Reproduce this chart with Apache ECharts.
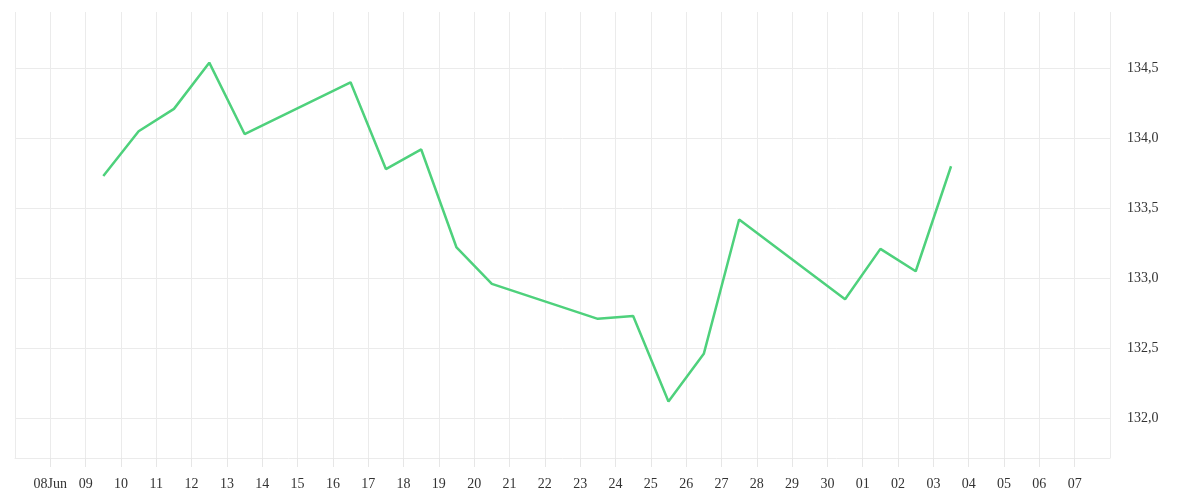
<!DOCTYPE html>
<html>
<head>
<meta charset="utf-8">
<script src="https://cdn.jsdelivr.net/npm/echarts@6/dist/echarts.min.js"></script>
<style>html,body{margin:0;padding:0;background:#fff}#c{width:1200px;height:500px}</style>
</head>
<body>
<div id="c"></div>
<script>
const dates = ['2025-06-09','2025-06-10','2025-06-11','2025-06-12','2025-06-13',
  '2025-06-16','2025-06-17','2025-06-18','2025-06-19','2025-06-20',
  '2025-06-23','2025-06-24','2025-06-25','2025-06-26','2025-06-27',
  '2025-06-30','2025-07-01','2025-07-02','2025-07-03'];
const prices = [133.73,134.05,134.21,134.54,134.03,
  134.40,133.78,133.92,133.22,132.96,
  132.71,132.73,132.12,132.46,133.42,
  132.85,133.21,133.05,133.80];
const tickLabels = ['','08Jun','09','10','11','12','13','14','15','16','17','18','19','20','21','22','23',
  '24','25','26','27','28','29','30','01','02','03','04','05','06','07',''];
const startDate = '2025-06-07';

const DAY = 86400000;
const t0 = Date.parse(startDate + 'T00:00:00Z');
const seriesData = dates.map((d, i) => [(Date.parse(d + 'T12:00:00Z') - t0) / DAY, prices[i]]);

const gridColor = '#ebebeb';
const font = '"Liberation Serif", "DejaVu Serif", serif';
const chart = echarts.init(document.getElementById('c'));
chart.setOption({
  animation: false,
  backgroundColor: '#fff',
  grid: { left: 15, right: 90, top: 12, bottom: 42, containLabel: false },
  xAxis: {
    type: 'value', min: 0, max: tickLabels.length - 1, interval: 1,
    axisLine: { show: true, lineStyle: { color: gridColor, width: 1 } },
    axisTick: { show: true, inside: false, length: 9, lineStyle: { color: '#e6e6e6', width: 1 } },
    splitLine: { show: true, lineStyle: { color: gridColor, width: 1 } },
    axisLabel: {
      color: '#333', fontFamily: font, fontSize: 14, margin: 19,
      showMinLabel: false, showMaxLabel: false,
      formatter: v => tickLabels[Math.round(v)] || ''
    }
  },
  yAxis: {
    type: 'value', position: 'right', min: 131.716, max: 134.902,
    axisLine: { show: false }, axisTick: { show: false },
    splitLine: { show: true, showMinLine: false, showMaxLine: false, lineStyle: { color: gridColor, width: 1 } },
    axisLabel: {
      color: '#333', fontFamily: font, fontSize: 14, margin: 17,
      showMinLabel: false, showMaxLabel: false,
      formatter: v => v.toFixed(1).replace('.', ',')
    }
  },
  series: [{
    type: 'line', data: seriesData, showSymbol: false, symbol: 'none',
    lineStyle: { color: '#4ed17c', width: 2.5 }
  }]
});
</script>
</body>
</html>
